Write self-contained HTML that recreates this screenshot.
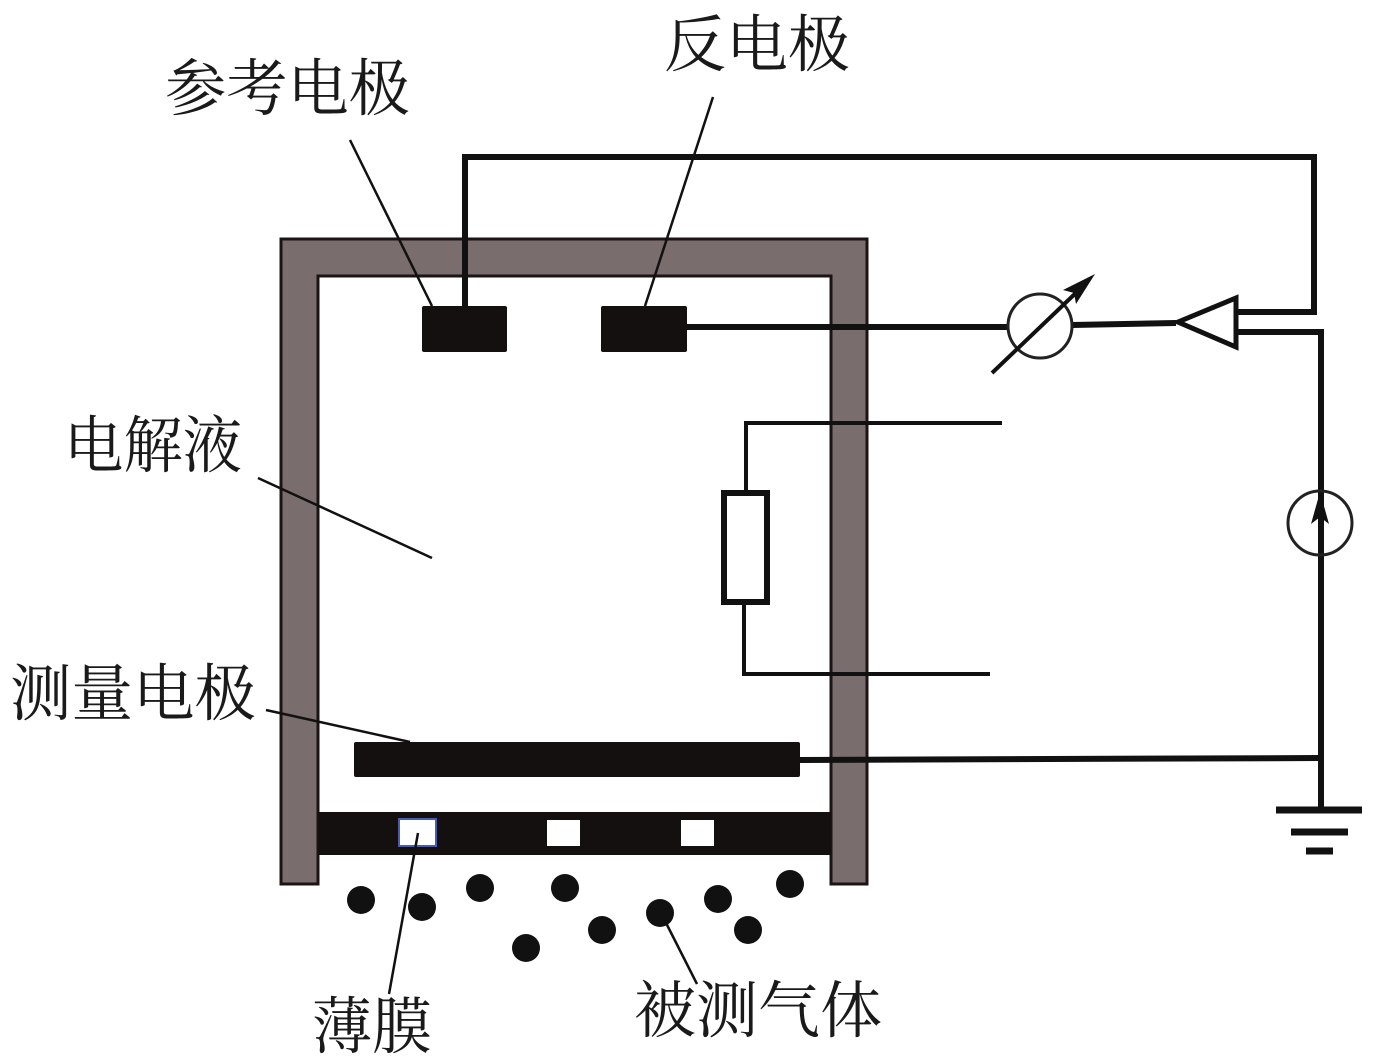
<!DOCTYPE html>
<html><head><meta charset="utf-8"><style>
html,body{margin:0;padding:0;background:#fff}
svg{display:block}
text{font-family:"Liberation Serif","Noto Serif CJK SC",serif;fill:#1a1a1a}
</style></head><body>
<svg width="1374" height="1058" viewBox="0 0 1374 1058" xmlns="http://www.w3.org/2000/svg">
<!-- housing -->
<path d="M281,884 L281,239 L867,239 L867,884 L831,884 L831,276 L318,276 L318,884 Z" fill="#7a6d6d" stroke="#1a1414" stroke-width="3"/>
<!-- membrane -->
<rect x="318" y="812" width="513" height="43" fill="#151010"/>
<rect x="399" y="819" width="37" height="27" fill="#fff" stroke="#4a5bb0" stroke-width="2"/>
<rect x="547" y="820" width="33" height="26" fill="#fff"/>
<rect x="681" y="820" width="33" height="26" fill="#fff"/>
<!-- electrodes -->
<rect x="354" y="742" width="446" height="35" rx="2" fill="#151010"/>
<rect x="422" y="306" width="85" height="46" rx="2" fill="#151010"/>
<rect x="601" y="306" width="86" height="46" rx="2" fill="#151010"/>
<!-- wires -->
<g fill="none" stroke="#111" stroke-width="6" stroke-linejoin="miter">
<polyline points="465,306 465,157 1314,157 1314,312 1237,312"/>
<line x1="687" y1="327" x2="1009" y2="327"/>
<line x1="1072" y1="325" x2="1176" y2="323"/>
<polyline points="1237,332 1321,332 1321,810"/>
<line x1="800" y1="760" x2="1321" y2="758"/>
<line x1="1276" y1="810" x2="1362" y2="810" stroke-width="7"/>
<line x1="1291" y1="832" x2="1348" y2="832" stroke-width="7"/>
<line x1="1306" y1="851" x2="1333" y2="851" stroke-width="7"/>
</g>
<!-- meter -->
<circle cx="1040" cy="326" r="32" fill="none" stroke="#222" stroke-width="3"/>
<line x1="992" y1="373" x2="1080" y2="289" stroke="#111" stroke-width="4"/>
<polygon points="1095,274 1063,290 1074,293 1076,304" fill="#111"/>
<!-- amplifier -->
<polygon points="1178,322 1236,298 1236,347" fill="#fff" stroke="#111" stroke-width="5"/>
<!-- current source -->
<circle cx="1320" cy="523" r="32" fill="none" stroke="#222" stroke-width="3"/>
<polygon points="1320,492 1311,524 1320,517 1329,524" fill="#111"/>
<!-- resistor branch -->
<g fill="none" stroke="#111" stroke-width="4">
<polyline points="1002,423 746,423 746,492"/>
<polyline points="744,603 744,674 990,674"/>
</g>
<rect x="724" y="493" width="43" height="109" fill="#fff" stroke="#111" stroke-width="6"/>
<!-- leader lines -->
<g stroke="#111" stroke-width="2.5">
<line x1="350" y1="140" x2="432" y2="306"/>
<line x1="713" y1="97" x2="645" y2="306"/>
<line x1="258" y1="478" x2="432" y2="558"/>
<line x1="266" y1="710" x2="410" y2="742"/>
<line x1="418" y1="833" x2="389" y2="994"/>
<line x1="662" y1="915" x2="697" y2="984"/>
</g>
<!-- gas dots -->
<g fill="#111">
<circle cx="361" cy="900" r="14"/><circle cx="422" cy="907" r="14"/>
<circle cx="480" cy="888" r="14"/><circle cx="565" cy="888" r="14"/>
<circle cx="526" cy="948" r="14"/><circle cx="602" cy="930" r="14"/>
<circle cx="660" cy="913" r="14"/><circle cx="718" cy="899" r="14"/>
<circle cx="748" cy="930" r="14"/><circle cx="790" cy="884" r="14"/>
</g>
<!-- labels -->
<g font-size="62">
<text x="165" y="110" textLength="245" lengthAdjust="spacingAndGlyphs">参考电极</text>
<text x="664" y="66" textLength="186" lengthAdjust="spacingAndGlyphs">反电极</text>
<text x="64" y="467" textLength="178" lengthAdjust="spacingAndGlyphs">电解液</text>
<text x="10" y="715" textLength="246" lengthAdjust="spacingAndGlyphs">测量电极</text>
<text x="312" y="1048" textLength="120" lengthAdjust="spacingAndGlyphs">薄膜</text>
<text x="634" y="1032" textLength="248" lengthAdjust="spacingAndGlyphs">被测气体</text>
</g>
</svg>
</body></html>
